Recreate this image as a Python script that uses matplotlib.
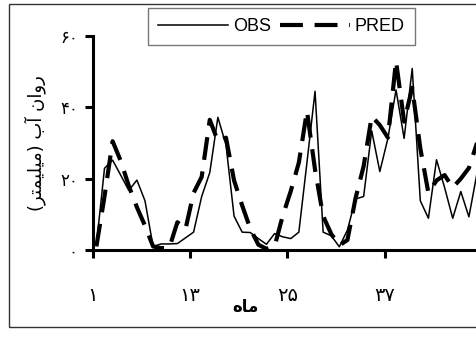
import numpy as np
import matplotlib
matplotlib.use("Agg")
import matplotlib.pyplot as plt
from matplotlib.patches import Rectangle

plt.rcParams['font.family'] = ['Liberation Sans', 'DejaVu Sans']

# ---- data ----
months = np.arange(1, 49)
obs = [1.4, 22.9, 25.2, 21.0, 16.7, 19.6, 13.8, 1.0, 1.7, 1.7, 1.8, 3.4,
       5.0, 15.0, 21.7, 37.2, 29.5, 9.5, 5.0, 4.9, 3.2, 1.6, 4.6, 3.7,
       3.2, 5.0, 24.5, 44.5, 5.0, 4.0, 0.9, 5.6, 14.3, 15.0, 33.4, 22.0,
       31.3, 44.9, 31.3, 50.9, 13.8, 8.9, 25.3, 17.5, 8.9, 16.4, 9.3, 21.5]
pred = [1.0, 15.0, 30.5, 25.0, 18.0, 12.0, 6.8, 1.0, 0.5, 0.6, 7.8, 5.8,
        16.0, 20.5, 36.5, 30.5, 31.5, 19.5, 12.5, 6.0, 1.5, 0.3, 1.0, 9.5,
        16.5, 24.5, 39.0, 22.5, 9.5, 4.5, 1.3, 2.8, 14.5, 23.5, 37.5, 35.0,
        31.5, 53.0, 36.0, 45.5, 28.5, 16.0, 19.5, 21.0, 17.5, 20.0, 23.0, 30.0]
x_tick_months = [1, 13, 25, 37]
x_tick_labels = ['\u06F1', '\u06F1\u06F3', '\u06F2\u06F5', '\u06F3\u06F7']
y_ticks = [0, 20, 40, 60]
y_tick_labels = ['\u06F0', '\u06F2\u06F0', '\u06F4\u06F0', '\u06F6\u06F0']
series_names = ['OBS', 'PRED']
# Persian labels in visual order, using Arabic presentation forms
xlabel_text = '\uFEE9\uFE8E\uFEE3'  # ماه
ylabel_text = ('(' + '\uFEAE\uFE98\uFEE4\uFEF4\uFEE0\uFEF4\uFEE3' + ')'
               + ' ' + '\uFE8F\uFE81' + ' ' + '\uFEE5\uFE8D\uFEED\uFEAD')  # روان آب (میلیمتر)

W, H = 477, 337
fig = plt.figure(figsize=(W / 100, H / 100), dpi=100)
fig.patch.set_facecolor('white')

# outer frame
fig.patches.append(Rectangle((9.5 / W, (H - 327) / H), 1.2, (327 - 3.5) / H,
                             transform=fig.transFigure, fill=False,
                             edgecolor='#333333', linewidth=1.0))

ax = fig.add_axes([93 / W, (H - 250) / H, (W - 93) / W, (250 - 36) / H])
ax.plot(months, obs, color='black', linewidth=1.1, label=series_names[0])
ax.plot(months, pred, color='black', linewidth=3.0, dashes=(5.5, 2.8),
        dash_capstyle='butt', label=series_names[1])

ax.set_xlim(0.58, 48.0)
ax.set_ylim(0, 60)
ax.set_xticks(np.array(x_tick_months) - 0.42)
ax.set_xticklabels(x_tick_labels, fontsize=14, family=['DejaVu Sans'])
ax.set_yticks(y_ticks)
ax.set_yticklabels(y_tick_labels, fontsize=12, family=['DejaVu Sans'])
for s in ['top', 'right']:
    ax.spines[s].set_visible(False)
for s in ['left', 'bottom']:
    ax.spines[s].set_linewidth(2.2)
ax.tick_params(axis='both', direction='out', length=6, width=2.2)
ax.tick_params(axis='y', pad=5)
ax.tick_params(axis='x', pad=20)

ax.set_xlabel(xlabel_text, fontsize=12, fontweight='bold', family=['DejaVu Sans'])
ax.xaxis.set_label_coords((245 - 93) / 384, (250 - 298) / 214)
ax.set_ylabel(ylabel_text, fontsize=13, family=['DejaVu Sans'], va='center')
ax.yaxis.set_label_coords((35 - 93) / 384, 0.5)

leg = fig.legend(loc='upper left', bbox_to_anchor=(148 / W, 1 - 8 / H), ncol=2,
                 frameon=True, fancybox=False, borderaxespad=0,
                 prop={'family': 'Liberation Sans', 'size': 13},
                 handlelength=3.9, handletextpad=0.25, columnspacing=0.5,
                 borderpad=0.55)
leg.get_frame().set_edgecolor('#555555')
leg.get_frame().set_linewidth(1.0)

fig.savefig('out.png', dpi=100)
